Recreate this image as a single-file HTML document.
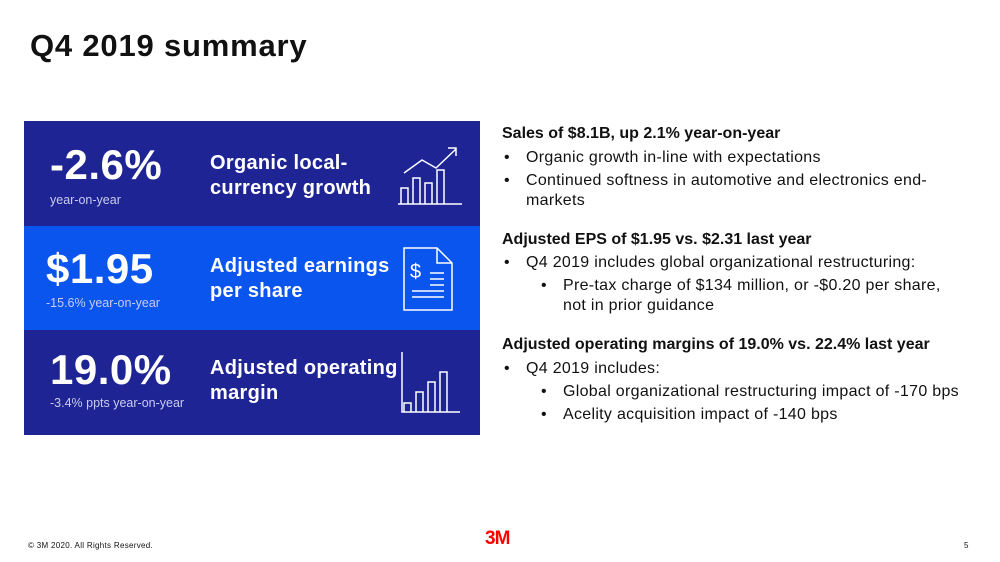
<!DOCTYPE html>
<html><head><meta charset="utf-8"><style>
*{margin:0;padding:0;box-sizing:border-box}
body{width:1000px;height:562px;background:#fff;font-family:"Liberation Sans",sans-serif;position:relative;overflow:hidden;color:#111}
.a{position:absolute;white-space:nowrap}
.row{position:absolute;left:24px;width:456px;height:105px}
.big{position:absolute;color:#fff;font-weight:bold;font-size:42px;letter-spacing:0.5px}
.sub{position:absolute;color:#c9ccf0;font-size:12.5px}
.lab{position:absolute;left:186px;color:#fff;font-weight:bold;font-size:20px;line-height:25px;letter-spacing:0.3px}
.t{position:absolute;font-size:16px;white-space:nowrap;letter-spacing:0.3px}
.h{font-weight:bold;letter-spacing:0}
</style></head><body>
<div class="a" style="left:30px;top:28px;font-size:31px;font-weight:bold;letter-spacing:0.8px">Q4 2019 summary</div>

<div class="row" style="top:121px;height:105px;background:#1f2494">
  <div class="big" style="left:26px;top:20px">-2.6%</div>
  <div class="sub" style="left:26px;top:72px">year-on-year</div>
  <div class="lab" style="top:30px">Organic local-<br>currency growth</div>
  <svg style="position:absolute;left:372px;top:22px" width="66" height="66" fill="none" stroke="#fff" stroke-width="1.5">
    <path d="M2 61H66M5 61V45h7v16M17 61V35h7v26M29 61V40h7v21M41 61V27h7v34"/>
    <path d="M8 30L26 17l14 8L60 6M52 5h8v8"/>
  </svg>
</div>
<div class="row" style="top:226px;height:104px;background:#0b55ef">
  <div class="big" style="left:22px;top:19px">$1.95</div>
  <div class="sub" style="left:22px;top:70px">-15.6% year-on-year</div>
  <div class="lab" style="top:28px">Adjusted earnings<br>per share</div>
  <svg style="position:absolute;left:378px;top:20px" width="56" height="66" fill="none" stroke="#fff" stroke-width="1.5">
    <path d="M2 2H35L50 17V64H2Z"/><path d="M35 2V17H50"/>
    <text x="8" y="32" fill="#fff" stroke="none" font-size="20" font-family="Liberation Sans">$</text>
    <path d="M28 27h14M28 33h14M28 39h14M10 45h32M10 51h32"/>
  </svg>
</div>
<div class="row" style="top:330px;height:105px;background:#1f2494">
  <div class="big" style="left:26px;top:16px">19.0%</div>
  <div class="sub" style="left:26px;top:66px">-3.4% ppts year-on-year</div>
  <div class="lab" style="top:26px">Adjusted operating<br>margin</div>
  <svg style="position:absolute;left:376px;top:20px" width="62" height="64" fill="none" stroke="#fff" stroke-width="1.5">
    <path d="M2 2V62H60M4 62V53h7v9M16 62V42h7v20M28 62V32h7v30M40 62V22h7v40"/>
  </svg>
</div>

<div>
<div class="t h" style="left:502px;top:125px">Sales of $8.1B, up 2.1% year-on-year</div>
<div class="t" style="left:504px;top:149px">•</div><div class="t" style="left:526px;top:149px">Organic growth in-line with expectations</div>
<div class="t" style="left:504px;top:172px">•</div><div class="t" style="left:526px;top:172px">Continued softness in automotive and electronics end-</div>
<div class="t" style="left:526px;top:192px">markets</div>
<div class="t h" style="left:502px;top:231px">Adjusted EPS of $1.95 vs. $2.31 last year</div>
<div class="t" style="left:504px;top:254px">•</div><div class="t" style="left:526px;top:254px">Q4 2019 includes global organizational restructuring:</div>
<div class="t" style="left:541px;top:277px">•</div><div class="t" style="left:563px;top:277px">Pre-tax charge of $134 million, or -$0.20 per share,</div>
<div class="t" style="left:563px;top:297px">not in prior guidance</div>
<div class="t h" style="left:502px;top:336px">Adjusted operating margins of 19.0% vs. 22.4% last year</div>
<div class="t" style="left:504px;top:360px">•</div><div class="t" style="left:526px;top:360px">Q4 2019 includes:</div>
<div class="t" style="left:541px;top:383px">•</div><div class="t" style="left:563px;top:383px">Global organizational restructuring impact of -170 bps</div>
<div class="t" style="left:541px;top:406px">•</div><div class="t" style="left:563px;top:406px">Acelity acquisition impact of -140 bps</div>
</div>

<div class="a" style="left:28px;top:541px;font-size:8px;letter-spacing:0.3px">© 3M 2020. All Rights Reserved.</div>
<div class="a" style="left:485px;top:528px;font-size:19px;font-weight:900;color:#ff0000;letter-spacing:-1px">3M</div>
<div class="a" style="left:964px;top:541px;font-size:8px">5</div>
</body></html>
